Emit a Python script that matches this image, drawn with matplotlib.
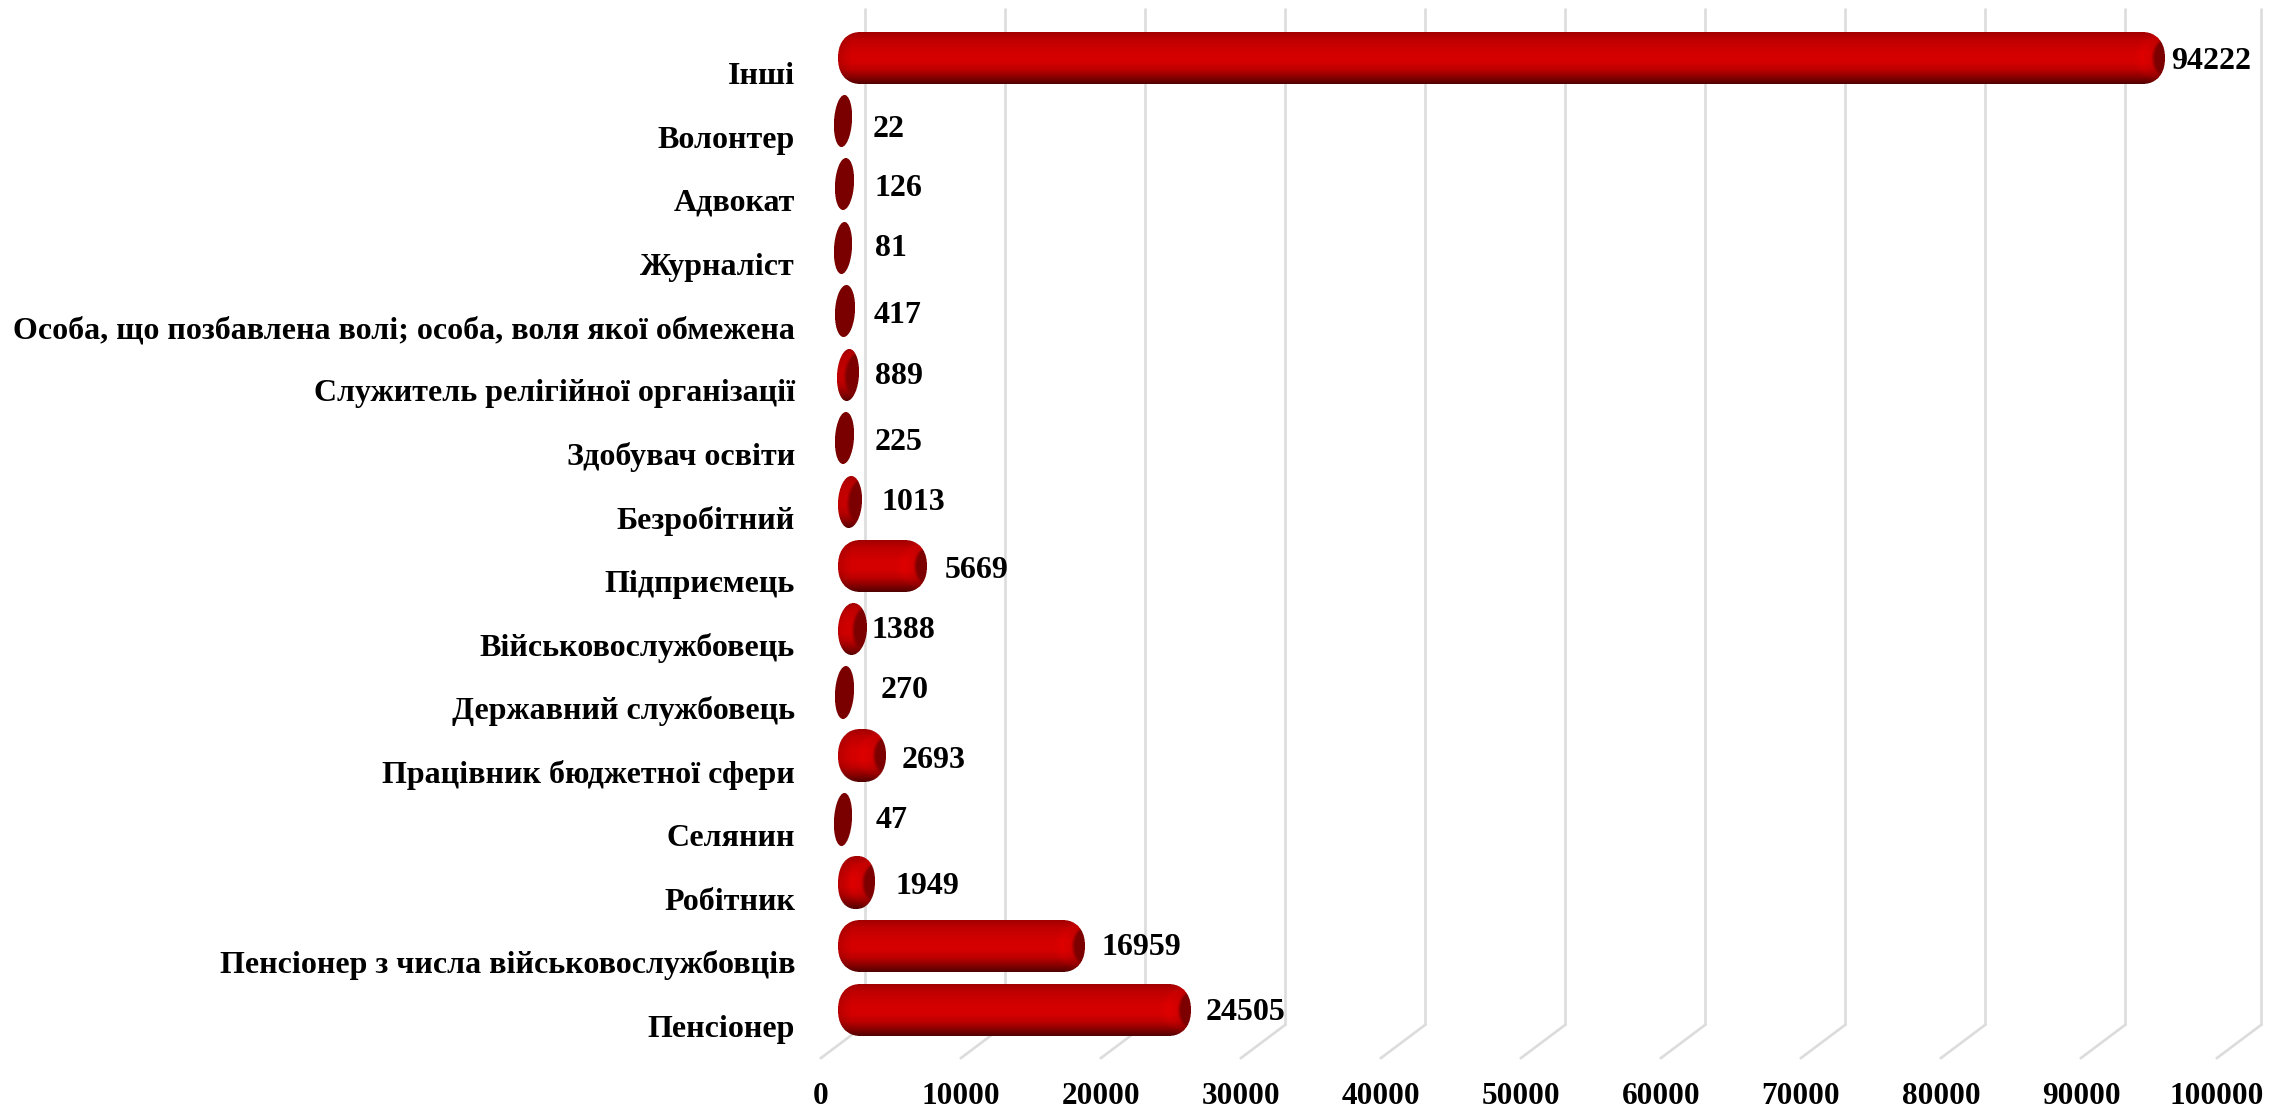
import numpy as np
import matplotlib
matplotlib.use("Agg")
import matplotlib.pyplot as plt

# Data, bottom to top
categories = [
    "Пенсіонер",
    "Пенсіонер з числа військовослужбовців",
    "Робітник",
    "Селянин",
    "Працівник бюджетної сфери",
    "Державний службовець",
    "Військовослужбовець",
    "Підприємець",
    "Безробітний",
    "Здобувач освіти",
    "Служитель релігійної організації",
    "Особа, що позбавлена волі; особа, воля якої обмежена",
    "Журналіст",
    "Адвокат",
    "Волонтер",
    "Інші",
]
values = [24505, 16959, 1949, 47, 2693, 270, 1388, 5669, 1013, 225, 889, 417, 81, 126, 22, 94222]
x_ticks = [0, 10000, 20000, 30000, 40000, 50000, 60000, 70000, 80000, 90000, 100000]

# Hand placed data label nudges (pixels from the end of the bar)
label_dx = [15, 16, 20, 24, 16, 27, 5, 18, 20, 21, 16, 18, 23, 21, 21, 6]
label_dy = [3, 1, 4, 1, 5, -2, 2, 5, 0, 4, 1, 4, 0, 4, 8, 4]

# Chart geometry in pixels
W, H = 2292, 1109
X0_PX = 865
PX_PER_UNIT = 140 / 10000
Y_BOTTOM_BAR, ROW_PX = 1010, 63.5
BAR_H = 52
GRID_TOP, GRID_BACK, GRID_FRONT = 8, 1025, 1058
DEPTH_PX = 44
LAST_GRID_NUDGE_PX = -4  # the last gridline sits a little short in the original

plt.rcParams["font.family"] = ["Liberation Serif", "DejaVu Serif"]
plt.rcParams["font.weight"] = "bold"


def x_from_px(px):
    return (px - X0_PX) / PX_PER_UNIT


def y_from_px(px):
    return (Y_BOTTOM_BAR - px) / ROW_PX


def bar_image(width):
    """RGBA picture of one rounded 3D bar, width in whole pixels"""
    ss = 3
    pad = 5
    nx = (width + 2 * pad) * ss
    ny = BAR_H * ss
    xs = (np.arange(nx) + 0.5) / ss - pad
    ys = (np.arange(ny) + 0.5) / ss
    xx, yy = np.meshgrid(xs, ys)
    v = yy - BAR_H / 2

    # narrow bars lean to the right at the top
    lean = 0.09 * max(0.0, 1 - width / 50)
    xx = xx + lean * v

    rx = min(23, width / 2)
    p = 2.0 if width < 30 else 2.25
    dx = np.maximum(0, np.abs(xx - width / 2) - (width / 2 - rx)) / rx
    dy = np.abs(v) / (BAR_H / 2)
    mask = (dx ** p + dy ** p <= 1).astype(float)

    t = np.clip(yy / BAR_H, 0, 1)
    red = np.interp(t, [0, 0.14, 0.4, 0.58, 0.72, 0.86, 1], [160, 190, 212, 212, 190, 140, 80])
    # left end is a bit darker
    red = red * (0.87 + 0.13 * np.clip(xx / 14, 0, 1))

    # end cap
    if width < 22:
        red = np.full_like(red, 122.0)
    else:
        cap_w = 16 if width < 30 else 14
        cap_h = 24 if width < 30 else 19
        cap = np.sqrt(np.clip(1 - (v / cap_h) ** 2, 0, 1)) * cap_w
        edge = np.clip((xx - (width - cap)) / 4, 0, 1)
        edge[np.abs(v) >= cap_h] = 0
        glow = np.clip(1 - np.abs(xx - (width - cap) + 9) / 9, 0, 1) * 10
        red = (red + glow) * (1 - edge) + 125 * edge

    # block average for smooth edges
    rows, cols = ny // ss, nx // ss
    alpha = mask.reshape(rows, ss, cols, ss).mean(axis=(1, 3))
    weight = np.where(alpha == 0, 1, alpha)
    red_avg = (red * mask).reshape(rows, ss, cols, ss).mean(axis=(1, 3)) / weight

    rgba = np.zeros((rows, cols, 4))
    rgba[..., 0] = np.clip(red_avg, 0, 255) / 255
    rgba[..., 3] = alpha
    return rgba, pad


fig = plt.figure(figsize=(W / 100, H / 100), dpi=100)
ax = fig.add_axes([0, 0, 1, 1])
ax.axis("off")

# Grid: back wall lines plus the short floor lines coming forward
grid_color = "#dcdcdc"
depth = DEPTH_PX / PX_PER_UNIT
for tick in x_ticks:
    x = tick + (LAST_GRID_NUDGE_PX / PX_PER_UNIT if tick == x_ticks[-1] else 0)
    ax.plot([x, x], [y_from_px(GRID_TOP), y_from_px(GRID_BACK)],
            color=grid_color, lw=1.9, zorder=1, solid_capstyle="butt")
    ax.plot([x, x - depth], [y_from_px(GRID_BACK), y_from_px(GRID_FRONT)],
            color=grid_color, lw=1.9, zorder=1)
    ax.text(x - depth, y_from_px(1097), str(tick), ha="center", va="center",
            fontsize=22.5, color="black", zorder=4)

# Bars
for i, (name, val) in enumerate(zip(categories, values)):
    width = int(round(max(18 + 0.005 * val, 10 + 0.01398 * val)))
    left_px = 838 - max(0, 24 - width) * 0.67
    img, pad = bar_image(width)
    right_px = left_px + width
    ax.imshow(img, extent=(x_from_px(left_px - pad), x_from_px(right_px + pad),
                           i - BAR_H / 2 / ROW_PX, i + BAR_H / 2 / ROW_PX),
              origin="upper", aspect="auto", zorder=3, interpolation="bilinear")

    ax.annotate(str(val), xy=(x_from_px(right_px), i),
                xytext=(label_dx[i] * 0.72, -label_dy[i] * 0.72), textcoords="offset points",
                ha="left", va="center", fontsize=23, color="black", zorder=4)
    ax.text(x_from_px(795), y_from_px(Y_BOTTOM_BAR - i * ROW_PX + 19), name,
            ha="right", va="center", fontsize=23.05, color="black", zorder=4)

ax.set_xlim(x_from_px(0), x_from_px(W))
ax.set_ylim(y_from_px(H), y_from_px(0))

fig.savefig("out.png", dpi=100, facecolor="white")
